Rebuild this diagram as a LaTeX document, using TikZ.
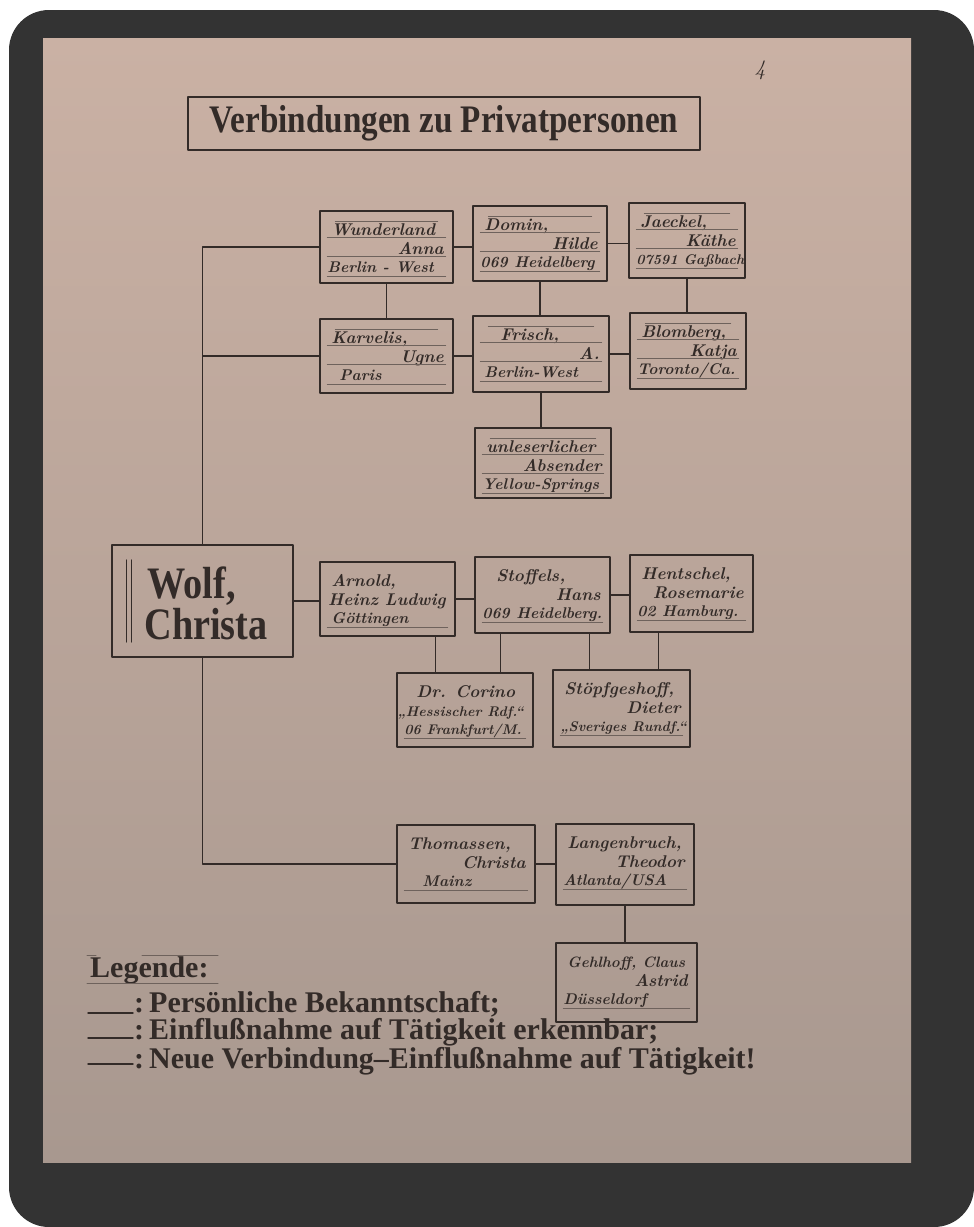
\documentclass[tikz,border=0pt]{standalone}
\usepackage{fontspec}
\usetikzlibrary{calc}
\newfontfamily\blackfont{Liberation Serif}[FakeStretch=0.85]
\newfontfamily\legendfont{Liberation Serif}

\definecolor{ink}{HTML}{332B28}
\definecolor{rulegray}{HTML}{6E625C}
\definecolor{framegray}{HTML}{333333}
\definecolor{papertop}{RGB}{202,177,164}
\definecolor{paperbot}{RGB}{168,152,143}

\newcommand{\handfont}{\fontsize{17}{19}\selectfont\bfseries\itshape}
\newcommand{\placefont}{\fontsize{15.5}{17}\selectfont\bfseries\itshape}
\newcommand{\smallhand}{\fontsize{14}{14}\selectfont}

% person box: name, x, y, width, height, line 1, line 2, line 3
\newcommand{\pbox}[8]{%
  \node[pbox, minimum width=#4pt, minimum height=#5pt] (#1) at (#2,#3) {};
  \draw[rule] ($(#1.north west)+(8,66)$) -- ($(#1.north east)+(-8,66)$);
  \node[hand, anchor=base west] at ($(#1.north west)+(12,25)$) {#6};
  \node[hand, anchor=base east] at ($(#1.north east)+(-10,44)$) {#7};
  \node[hand, font=\placefont, anchor=base west] at ($(#1.north west)+(8,62)$) {#8};
}
% ruled lines for the upper boxes
\newcommand{\prules}[1]{%
  \draw[rule] ($(#1.north west)+(16,11)$) -- ($(#1.north east)+(-16,11)$);
  \draw[rule] ($(#1.north west)+(8,27)$) -- ($(#1.north east)+(-8,27)$);
  \draw[rule] ($(#1.north west)+(8,46)$) -- ($(#1.north east)+(-8,46)$);
}

\begin{document}
\begin{tikzpicture}[x=1pt, y=-1pt, line cap=round, line join=round,
  pbox/.style={draw=ink, line width=1.6pt, inner sep=0pt},
  link/.style={draw=ink, line width=1.4pt},
  rule/.style={draw=rulegray, line width=0.6pt},
  hand/.style={text=ink, font=\handfont, inner sep=0pt},
  goth/.style={text=ink, font=\fontsize{45}{41}\selectfont\blackfont\bfseries, inner sep=0pt},
  swab/.style={text=ink, font=\fontsize{30}{25.5}\selectfont\legendfont\bfseries, inner sep=0pt}]
  % --- photo frame and paper ---
  \useasboundingbox (0,0) rectangle (974,1227);
  \fill[white] (0,0) rectangle (974,1227);
  \fill[framegray, rounded corners=40pt] (9,10) rectangle (974,1227);
  \shade[top color=papertop, bottom color=paperbot] (43,38) rectangle (911,1162);
  \node[hand, font=\fontsize{22}{22}\selectfont\itshape] (page) at (760,70) {4};
  % --- title ---
  \node[pbox, line width=1.3pt, minimum width=512pt, minimum height=53pt,
    text=ink, font=\fontsize{39}{39}\selectfont\blackfont\bfseries] (title) at (444,123.5)
    {Verbindungen zu Privatpersonen};
  % --- central person ---
  \node[pbox, minimum width=181pt, minimum height=112pt] (wolf) at (202.5,601) {};
  \draw[link] ($(wolf.west)+(15,-41)$) -- ($(wolf.west)+(15,41)$);
  \draw[link] ($(wolf.west)+(20,-41)$) -- ($(wolf.west)+(20,41)$);
  \node[goth, align=left, anchor=west] (wolfname) at ($(wolf.west)+(33,2)$) {\hspace*{3pt}Wolf,\\Christa};
  % --- contacts ---
  \pbox{wund}{386.5}{247}{133}{72}{Wunderland}{Anna}{Berlin - West}
  \pbox{domin}{540}{243.5}{134}{75}{Domin,}{Hilde}{069 Heidelberg}
  \pbox{jaeck}{687}{240.5}{116}{75}{Jaeckel,}{Käthe}{\smallhand 07591 Gaßbach}
  \pbox{karv}{386.5}{356}{133}{74}{Karvelis,}{Ugne}{\hspace*{12pt}Paris}
  \pbox{frisch}{541}{354}{136}{76}{\hspace*{16pt}Frisch,}{A.}{\hspace*{4pt}Berlin-West}
  \pbox{blom}{688}{351}{116}{76}{Blomberg,}{Katja}{Toronto/Ca.}
  \pbox{unles}{543}{463}{136}{70}{unleserlicher}{Absender}{Yellow-Springs}
  \foreach \n in {wund,domin,jaeck,karv,frisch,blom,unles} {\prules{\n}}
  \pbox{arn}{387.5}{599}{135}{74}{Arnold,}{Heinz Ludwig}{\hspace*{4pt}Göttingen}
  \pbox{stoff}{542.5}{595}{135}{76}{\hspace*{10pt}Stoffels,}{Hans}{069 Heidelberg.}
  \pbox{hent}{691.5}{593.5}{123}{77}{Hentschel,}{Rosemarie}{02 Hamburg.}
  \pbox{cor}{465}{710}{136}{74}{\hspace*{8pt}Dr. Corino}{\smallhand „Hessischer Rdf.“}{\smallhand 06 Frankfurt/M.}
  \pbox{stoep}{621.5}{708.5}{137}{77}{Stöpfgeshoff,}{Dieter}{\smallhand „Sveriges Rundf.“}
  \pbox{thom}{466}{864}{138}{78}{Thomassen,}{Christa}{\hspace*{18pt}Mainz}
  \pbox{lang}{625}{864.5}{138}{81}{Langenbruch,}{Theodor}{Atlanta/USA}
  \pbox{gehl}{626.5}{982.5}{141}{79}{\fontsize{15}{15}\selectfont Gehlhoff, Claus}{Astrid}{Düsseldorf}
  % --- connections ---
  \draw[link] (wolf.north) |- (wund.west);
  \draw[link] (wolf.north) |- (karv.west);
  \draw[link] (wolf.south) |- (thom.west);
  \draw[link] (wund.east) -- (wund.east -| domin.west);
  \draw[link] (domin.east) -- (domin.east -| jaeck.west);
  \draw[link] (wund.south) -- (wund.south |- karv.north);
  \draw[link] (domin.south) -- (domin.south |- frisch.north);
  \draw[link] (jaeck.south) -- (jaeck.south |- blom.north);
  \draw[link] (karv.east) -- (karv.east -| frisch.west);
  \draw[link] (frisch.east) -- (frisch.east -| blom.west);
  \draw[link] (frisch.south) -- (frisch.south |- unles.north);
  \draw[link] (wolf.east) -- (wolf.east -| arn.west);
  \draw[link] (arn.east) -- (arn.east -| stoff.west);
  \draw[link] (stoff.east) -- (stoff.east -| hent.west);
  \draw[link] ([xshift=48pt]arn.south) -- ([xshift=48pt]arn.south |- cor.north);
  \draw[link] ([xshift=-42pt]stoff.south) -- ([xshift=-42pt]stoff.south |- cor.north);
  \draw[link] ([xshift=47pt]stoff.south) -- ([xshift=47pt]stoff.south |- stoep.north);
  \draw[link] ([xshift=-33pt]hent.south) -- ([xshift=-33pt]hent.south |- stoep.north);
  \draw[link] (thom.east) -- (thom.east -| lang.west);
  \draw[link] (lang.south) -- (lang.south |- gehl.north);
  % --- legend ---
  \node[swab, anchor=base west] (legend) at (90,977) {Legende:};
  \draw[rule, line width=1pt] (87,955) -- (96,955) (142,955) -- (218,955);
  \draw[rule, line width=1pt] (87,983) -- (218,983);
  \coordinate (k1) at (80,1013);
  \coordinate (k2) at (80,1038);
  \coordinate (k3) at (80,1064);
  \foreach \k in {k1,k2,k3} {\draw[link] ([xshift=8pt]\k) -- ([xshift=53pt]\k);}
  \node[swab, align=left, anchor=base west] (keys) at ([xshift=54pt,yshift=-4pt]k3)
    {:\,Persönliche Bekanntschaft;\\
     :\,Einflußnahme auf Tätigkeit erkennbar;\\
     :\,Neue Verbindung–Einflußnahme auf Tätigkeit!};
\end{tikzpicture}
\end{document}
